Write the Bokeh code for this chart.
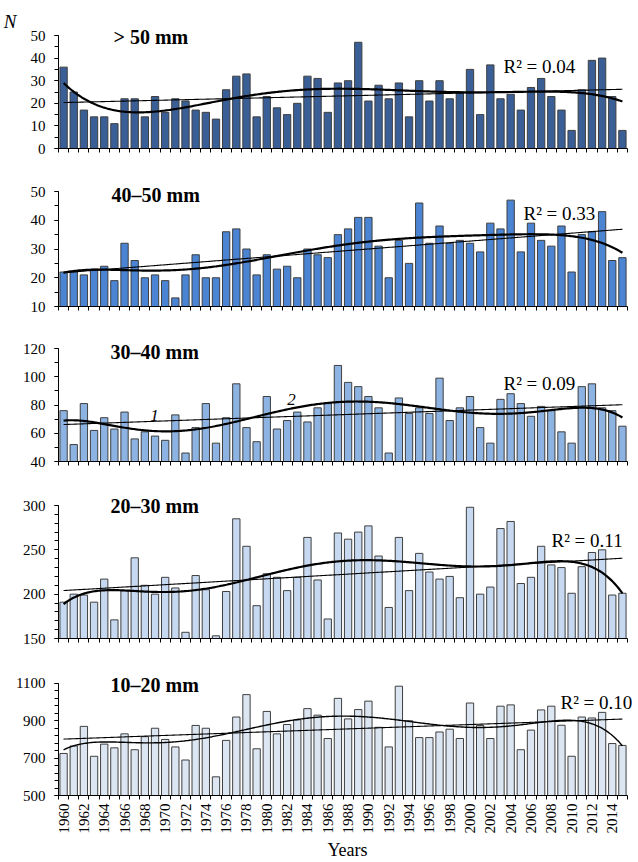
import numpy as np
from bokeh.plotting import figure
from bokeh.layouts import column
from bokeh.models import Range1d, FixedTicker, Label, LinearAxis
from bokeh.embed import file_html
from bokeh.resources import INLINE

# ---------------- data ----------------
years = list(range(1960, 2016))

n_over50 = [36, 25, 17, 14, 14, 11, 22, 22, 14, 23,
            16, 22, 21, 17, 16, 13, 26, 32, 33, 14,
            23, 18, 15, 20, 32, 31, 16, 29, 30, 47,
            21, 28, 22, 29, 14, 30, 21, 30, 22, 25,
            35, 15, 37, 22, 24, 17, 27, 31, 23, 17,
            8, 26, 39, 40, 23, 8]

n_40_50 = [22, 22, 21, 23, 24, 19, 32, 26, 20, 21,
           19, 13, 21, 28, 20, 20, 36, 37, 30, 21,
           28, 23, 24, 20, 30, 28, 27, 35, 37, 41,
           41, 31, 20, 33, 25, 46, 32, 38, 32, 33,
           32, 29, 39, 37, 47, 29, 39, 33, 31, 38,
           22, 35, 36, 43, 26, 27]

n_30_40 = [76, 52, 81, 62, 71, 63, 75, 56, 61, 58,
           55, 73, 46, 64, 81, 53, 71, 95, 64, 54,
           86, 63, 69, 75, 68, 78, 81, 108, 96, 93,
           86, 78, 46, 85, 74, 78, 74, 99, 69, 78,
           86, 64, 53, 84, 88, 81, 72, 79, 76, 61,
           53, 93, 95, 78, 76, 65]

n_20_30 = [191, 200, 199, 191, 217, 171, 204, 241, 210, 200,
           219, 207, 157, 221, 205, 153, 203, 285, 254, 187,
           223, 219, 204, 219, 264, 216, 172, 269, 262, 270,
           277, 243, 185, 264, 204, 246, 225, 217, 220, 196,
           298, 200, 208, 274, 282, 212, 219, 254, 233, 230,
           201, 231, 247, 250, 199, 201]

n_10_20 = [725, 765, 870, 710, 775, 755, 830, 745, 815, 860,
           800, 760, 690, 875, 860, 600, 795, 920, 1040, 750,
           950, 830, 880, 905, 965, 930, 805, 1020, 910, 960,
           1005, 865, 760, 1085, 900, 810, 810, 840, 855, 805,
           995, 875, 805, 978, 985, 745, 850, 958, 978, 876,
           710, 920, 915, 945, 778, 768]

titles = ["> 50 mm", "40\u201350 mm", "30\u201340 mm", "20\u201330 mm", "10\u201320 mm"]
r2_texts = ["R\u00b2 = 0.04", "R\u00b2 = 0.33", "R\u00b2 = 0.09", "R\u00b2 = 0.11", "R\u00b2 = 0.10"]
y_limits = [(0, 50), (10, 50), (40, 120), (150, 300), (500, 1100)]
y_major = [10, 10, 20, 50, 200]
y_minor = [5, 5, 10, 10, 40]
xlabel_years = list(range(1960, 2016, 2))

# ---------------- styling / layout ----------------
FONT = "Liberation Serif"
fills = ["#3A5F97", "#4A84D2", "#8DB3E2", "#C6D9F1", "#DCE6F2"]
axis_h = [113, 115, 113, 133, 113]      # px height of the value axis
ext = [25, 12, 12, 12, 12]              # extra frame space above the axis top
b_top = [10, 10, 9, 10, 11]
b_bot = [21, 21, 22, 22, 66]
AXIS_W = 569                            # px width of the category axis
FRAME_W = 578
x0, x1 = 1959.5, 2015.5
px_per_x = AXIS_W / (x1 - x0)
# text positions in px relative to the axis box (x from left, y down from axis top)
title_px = [(55, 1.5), (53, 3), (52, 3), (52, 0.5), (52, 1.5)]
r2_px = [(445, 30.5), (465, 21.5), (445, 35), (493, 35), (502, 19.5)]
poly_w = [2.2, 2.2, 2.2, 2.2, 1.4]

series = [n_over50, n_40_50, n_30_40, n_20_30, n_10_20]

yr = np.array(years, dtype=float)
xs_fine = np.linspace(yr[0], yr[-1], 400)


def t_norm(x):
    return (np.asarray(x) - 1987.5) / 27.5


figs = []
for i, vals in enumerate(series):
    ymin, ymax = y_limits[i]
    upp = (ymax - ymin) / axis_h[i]           # data units per px
    last = (i == len(series) - 1)
    fh = axis_h[i] + ext[i]
    p = figure(width=58 + FRAME_W, height=b_top[i] + fh + b_bot[i],
               x_range=Range1d(x0, x0 + FRAME_W / px_per_x),
               y_range=Range1d(ymin, ymax + ext[i] * upp),
               output_backend="svg", toolbar_location=None,
               min_border_left=58, min_border_right=0,
               min_border_top=b_top[i], min_border_bottom=b_bot[i])
    p.outline_line_color = None
    p.xgrid.visible = False
    p.ygrid.visible = False

    def to_data(xpx, ypx):
        return x0 + xpx / px_per_x, ymax - ypx * upp

    # bars
    p.vbar(x=years, top=vals, bottom=ymin, width=0.72,
           fill_color=fills[i], line_color="#3F3F3F", line_width=1)

    # trend lines computed from data (linear and 6th-order polynomial)
    v = np.array(vals, dtype=float)
    lin = np.polyfit(t_norm(yr), v, 1)
    p.line(xs_fine, np.polyval(lin, t_norm(xs_fine)), line_color="black", line_width=1.1)
    poly = np.polyfit(t_norm(yr), v, 6)
    p.line(xs_fine, np.polyval(poly, t_norm(xs_fine)), line_color="black", line_width=poly_w[i])

    # y axis
    ya = p.yaxis[0]
    ya.bounds = (ymin, ymax)
    ya.ticker = FixedTicker(ticks=list(range(ymin, ymax + 1, y_major[i])),
                            minor_ticks=list(range(ymin, ymax + 1, y_minor[i])))
    ya.major_tick_out = 4
    ya.major_tick_in = 0
    ya.minor_tick_out = 4
    ya.minor_tick_in = 0
    ya.major_label_standoff = 9
    ya.major_label_text_font = FONT
    ya.major_label_text_font_size = "15px"
    ya.major_label_text_color = "black"
    ya.axis_line_color = "black"
    ya.major_tick_line_color = "black"
    ya.minor_tick_line_color = "black"

    # x axis: tick marks between categories, labels every second year
    xa = p.xaxis[0]
    xa.bounds = (x0, x1)
    bounds = [y - 0.5 for y in years] + [years[-1] + 0.5]
    xa.ticker = FixedTicker(ticks=xlabel_years if last else [], minor_ticks=bounds)
    xa.minor_tick_out = 4
    xa.minor_tick_in = 0
    xa.minor_tick_line_color = "black"
    xa.major_tick_line_color = None
    xa.major_tick_out = 4
    xa.major_tick_in = 0
    xa.axis_line_color = "black"
    if last:
        xa.major_label_orientation = np.pi / 2
        xa.major_label_standoff = 4
        xa.major_label_text_font = FONT
        xa.major_label_text_font_size = "15px"
        xa.major_label_text_color = "black"
        xa.axis_label = "Years"
        xa.axis_label_text_font = FONT
        xa.axis_label_text_font_size = "18px"
        xa.axis_label_text_font_style = "normal"
        xa.axis_label_text_color = "black"
        xa.axis_label_standoff = 3
    else:
        xa.major_label_text_font_size = "0px"

    def add_text(xpx, ypx, text, size, style="normal", align="left"):
        tx, ty = to_data(xpx, ypx)
        p.add_layout(Label(x=tx, y=ty, text=text, text_font=FONT,
                           text_font_size=size, text_font_style=style,
                           text_baseline="middle", text_align=align,
                           text_color="black"))

    add_text(title_px[i][0], title_px[i][1], titles[i], "20px", "bold")
    add_text(r2_px[i][0], r2_px[i][1], r2_texts[i], "19px")
    if i == 2:
        add_text(96, 67, "1", "17px", "italic", "center")
        add_text(233, 51, "2", "17px", "italic", "center")
    if i == 0:
        n_val = 56
        na = LinearAxis(ticker=FixedTicker(ticks=[n_val], minor_ticks=[]),
                        major_label_overrides={n_val: "N"},
                        axis_line_color=None, major_tick_line_color=None,
                        minor_tick_line_color=None, major_tick_out=0, major_tick_in=0,
                        major_label_standoff=11, major_label_text_font=FONT,
                        major_label_text_font_style="italic",
                        major_label_text_font_size="19px",
                        major_label_text_color="black")
        p.add_layout(na, "left")
    figs.append(p)

layout = column(*figs, spacing=0)
open("out.html", "w").write(file_html(layout, INLINE))
